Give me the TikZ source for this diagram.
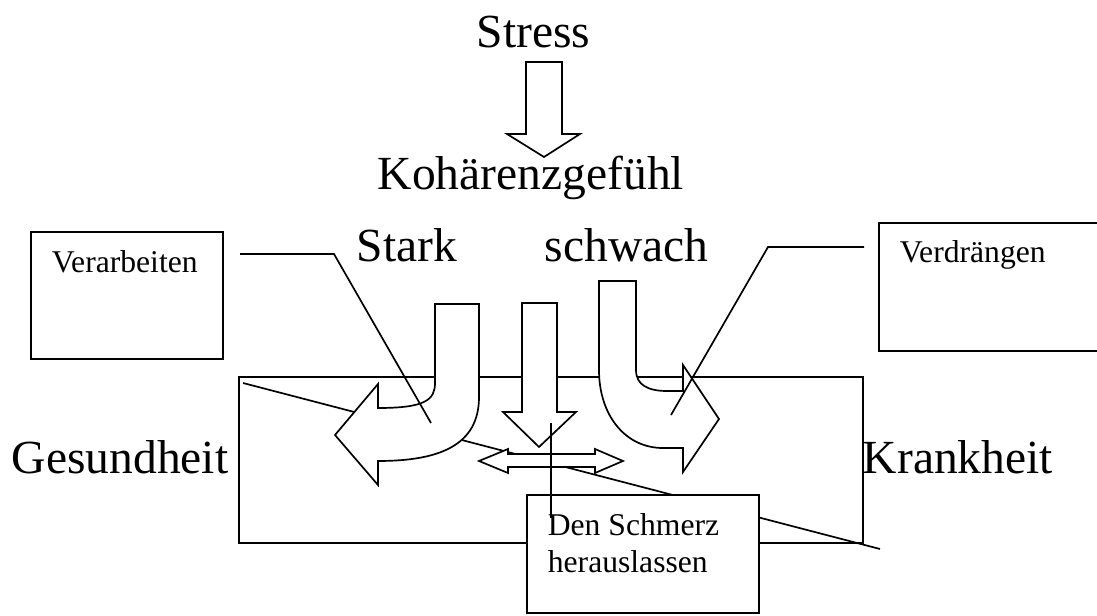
\documentclass[tikz,border=0pt]{standalone}
\usepackage{fontspec}
\setmainfont{Liberation Serif}
\tikzset{
  bigtext/.style={font=\fontsize{33.8}{40}\selectfont, inner sep=0pt, anchor=base west},
  smalltext/.style={font=\fontsize{22.5}{26.1}\selectfont, inner sep=0pt, anchor=base west},
  blockarrow/.style={draw, fill=white, line join=miter}
}
\begin{document}
\begin{tikzpicture}[x=0.025cm, y=-0.025cm, line width=1.2pt]
\useasboundingbox (0,0) rectangle (1097,616);
% frame and the long diagonal behind everything
\draw (239,377) rectangle (863,543);
\coordinate (diagA) at (243,383);
\coordinate (diagB) at (880,549);
\draw (diagA) -- (diagB);
% straight arrows
\foreach \xl/\xr/\hl/\hr/\yt/\yb/\tx/\ty in {526/562/507/580/62/134/544/157, 522/557/503/576/303/412/539/447}
{
	\draw[blockarrow] (\xl,\yt) -- (\xr,\yt) -- (\xr,\yb) -- (\hr,\yb) -- (\tx,\ty) -- (\hl,\yb) -- (\xl,\yb) -- cycle;
}
% bent arrows
\draw[blockarrow] (435,304) -- (479,304) -- (479,397) .. controls (479,445) and (440,461) .. (378,461)
	-- (378,485) -- (335,435) -- (378,384) -- (378,408) .. controls (425,408) and (435,400) .. (435,383) -- cycle;
\draw[blockarrow] (599,281) -- (636,281) -- (636,370) .. controls (636,385) and (648,391) .. (667,391)
	-- (683,391) -- (683,365) -- (719,419) -- (683,472) -- (683,448) -- (663,448) .. controls (625,448) and (599,415) .. (599,370) -- cycle;
% double arrow
\draw[blockarrow] (479,461) -- (508,449) -- (508,454) -- (595,454) -- (595,449) -- (623,461)
	-- (595,473) -- (595,467) -- (508,467) -- (508,473) -- cycle;
% boxes
\draw[fill=white] (527,495) rectangle (759,613);
\draw (31,232) rectangle (223,359);
\draw (1097,223) -- (879,223) -- (879,351) -- (1097,351);
% callout lines
\coordinate (verarbStart) at (240,254);
\coordinate (verarbTip) at (431,423);
\coordinate (verdrStart) at (864,247);
\coordinate (verdrTip) at (671,415);
\coordinate (schmerzTop) at (551,423);
\coordinate (schmerzEnd) at (551,518);
\draw (verarbStart) -- (334,254) -- (verarbTip);
\draw (verdrStart) -- (768,247) -- (verdrTip);
\draw (schmerzTop) -- (schmerzEnd);
% labels
\node[bigtext] (stress) at (476,48) {Stress};
\node[bigtext] (koh) at (377,190) {Kohärenzgefühl};
\node[bigtext] (stark) at (356,262) {Stark};
\node[bigtext] (schwach) at (544,262) {schwach};
\node[bigtext] (gesund) at (11,473) {Gesundheit};
\node[bigtext] (krank) at (862,473) {Krankheit};
\node[smalltext] (verarb) at (51,273) {Verarbeiten};
\node[smalltext] (verdr) at (899,263) {Verdrängen};
\node[smalltext] (schmerz1) at (547,535) {Den Schmerz};
\node[smalltext] (schmerz2) at (547,572) {herauslassen};
\end{tikzpicture}
\end{document}
